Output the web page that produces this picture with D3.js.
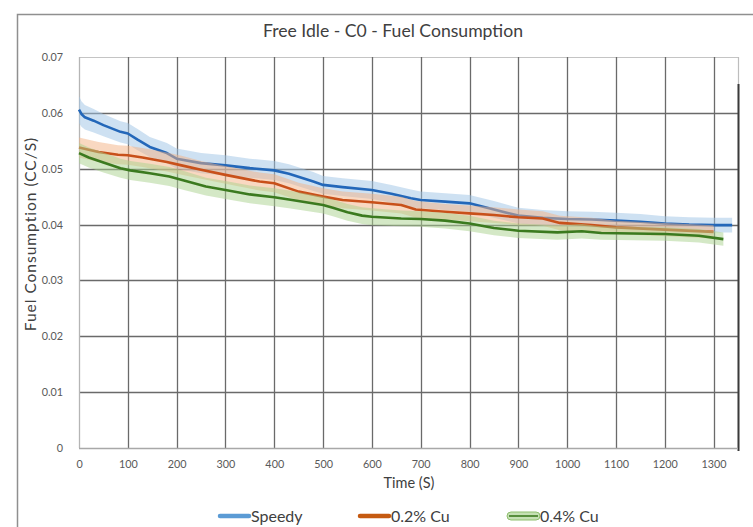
<!DOCTYPE html>
<html>
<head>
<meta charset="utf-8">
<script src="https://cdn.jsdelivr.net/npm/d3@7"></script>
<style>
  html, body { margin: 0; padding: 0; background: #fff; }
  svg { display: block; font-family: Lato, "Open Sans", sans-serif; }
</style>
</head>
<body>
<svg id="chart" width="753" height="527"></svg>
<script>
// Fuel consumption over time for three fuels (mean line with a shaded band)
const seriesNames = ["Speedy", "0.2% Cu", "0.4% Cu"];

const speedyTime  = [0, 5, 12, 30, 50, 85, 100, 120, 145, 180, 200, 250, 300, 350, 400, 430, 480, 500, 540, 600, 640, 680, 700, 750, 800, 850, 900, 950, 1000, 1050, 1100, 1150, 1200, 1250, 1300, 1338];
const speedyValue = [0.0606, 0.0598, 0.0592, 0.0586, 0.0578, 0.0566, 0.0563, 0.0552, 0.0539, 0.0528, 0.0518, 0.0510, 0.0506, 0.0501, 0.0497, 0.0491, 0.0477, 0.0471, 0.0467, 0.0462, 0.0455, 0.0447, 0.0444, 0.0441, 0.0438, 0.0427, 0.0416, 0.0412, 0.0410, 0.0409, 0.0407, 0.0405, 0.0402, 0.0400, 0.0399, 0.0399];
const speedyBand  = [0.0024, 0.0023, 0.0022, 0.0021, 0.0020, 0.0019, 0.0019, 0.0019, 0.0018, 0.0018, 0.0018, 0.0018, 0.0018, 0.0017, 0.0017, 0.0017, 0.0017, 0.0016, 0.0016, 0.0016, 0.0016, 0.0016, 0.0015, 0.0015, 0.0015, 0.0015, 0.0014, 0.0014, 0.0014, 0.0014, 0.0014, 0.0014, 0.0013, 0.0013, 0.0013, 0.0013];

const cu02Time  = [0, 40, 80, 100, 130, 180, 210, 250, 300, 370, 400, 450, 500, 540, 600, 660, 690, 750, 800, 850, 900, 950, 985, 1050, 1100, 1200, 1300];
const cu02Value = [0.0538, 0.0530, 0.0525, 0.0524, 0.0520, 0.0512, 0.0506, 0.0498, 0.0489, 0.0477, 0.0474, 0.0459, 0.0450, 0.0444, 0.0440, 0.0435, 0.0427, 0.0423, 0.0420, 0.0417, 0.0413, 0.0411, 0.0403, 0.0399, 0.0395, 0.0391, 0.0387];
const cu02Band  = [0.0018, 0.0018, 0.0017, 0.0017, 0.0017, 0.0017, 0.0017, 0.0016, 0.0016, 0.0016, 0.0016, 0.0016, 0.0015, 0.0015, 0.0015, 0.0015, 0.0015, 0.0014, 0.0014, 0.0014, 0.0014, 0.0013, 0.0013, 0.0013, 0.0012, 0.0012, 0.0012];

const cu04Time  = [0, 20, 50, 85, 105, 145, 185, 215, 260, 300, 350, 400, 430, 500, 520, 550, 580, 600, 660, 700, 750, 800, 850, 900, 980, 1030, 1070, 1200, 1270, 1320];
const cu04Value = [0.0528, 0.0520, 0.0511, 0.0501, 0.0497, 0.0492, 0.0486, 0.0479, 0.0468, 0.0462, 0.0454, 0.0449, 0.0445, 0.0435, 0.0430, 0.0422, 0.0416, 0.0414, 0.0411, 0.0410, 0.0407, 0.0402, 0.0394, 0.0389, 0.0386, 0.0388, 0.0385, 0.0383, 0.0380, 0.0374];
const cu04Band  = [0.0018, 0.0018, 0.0018, 0.0017, 0.0017, 0.0017, 0.0017, 0.0017, 0.0016, 0.0016, 0.0016, 0.0016, 0.0016, 0.0015, 0.0015, 0.0015, 0.0015, 0.0015, 0.0014, 0.0014, 0.0014, 0.0014, 0.0013, 0.0013, 0.0013, 0.0013, 0.0012, 0.0012, 0.0012, 0.0012];

const xTicks = [0, 100, 200, 300, 400, 500, 600, 700, 800, 900, 1000, 1100, 1200, 1300];
const yTicks = [0, 0.01, 0.02, 0.03, 0.04, 0.05, 0.06, 0.07];

const lineColors = ["#2367b9", "#c8501a", "#3b7a1f"];
const bandColors = ["#9dc3e6", "#f4b183", "#a9d18e"];
const legendColors = ["#5b9bd5", "#c55a11", "#3b7a1f"];

const series = [
  { name: seriesNames[0], t: speedyTime, v: speedyValue, e: speedyBand },
  { name: seriesNames[1], t: cu02Time,   v: cu02Value,   e: cu02Band },
  { name: seriesNames[2], t: cu04Time,   v: cu04Value,   e: cu04Band }
].map(s => ({ name: s.name, pts: s.t.map((t, i) => ({ t, v: s.v[i], e: s.e[i] })) }));

const svg = d3.select("#chart");
const plotLeft = 79, plotRight = 738, plotTop = 57, plotBottom = 448;

const x = d3.scaleLinear().domain([0, 1350]).range([plotLeft, plotRight]);
const y = d3.scaleLinear().domain([0, 0.07]).range([plotBottom, plotTop]);

// outer chart frame
svg.append("rect")
  .attr("x", 17.5).attr("y", 14.5).attr("width", 800).attr("height", 600)
  .attr("fill", "#fff").attr("stroke", "#8f8f8f").attr("stroke-width", 1.5);

// title
svg.append("text")
  .attr("x", 393).attr("y", 37)
  .attr("text-anchor", "middle")
  .attr("font-size", 17.6).attr("fill", "#404040")
  .text("Free Idle - C0 - Fuel Consumption");

// grid
const grid = svg.append("g");
grid.selectAll("line.h").data(yTicks.filter(d => d > 0 && d < 0.07)).join("line")
  .attr("x1", plotLeft).attr("x2", plotRight)
  .attr("y1", d => Math.round(y(d)) + 0.5).attr("y2", d => Math.round(y(d)) + 0.5)
  .attr("stroke", "#6a6a6a").attr("stroke-width", 1.3);
grid.append("line")
  .attr("x1", plotLeft).attr("x2", plotRight).attr("y1", y(0.07) + 0.5).attr("y2", y(0.07) + 0.5)
  .attr("stroke", "#c4c4c4").attr("stroke-width", 1.2);
grid.selectAll("line.v").data(xTicks.filter(d => d > 0)).join("line")
  .attr("x1", d => Math.round(x(d)) + 0.5).attr("x2", d => Math.round(x(d)) + 0.5)
  .attr("y1", plotTop).attr("y2", plotBottom)
  .attr("stroke", "#6a6a6a").attr("stroke-width", 1.3);
grid.append("line")
  .attr("x1", plotRight + 0.5).attr("x2", plotRight + 0.5).attr("y1", plotTop).attr("y2", plotBottom)
  .attr("stroke", "#bdbdbd").attr("stroke-width", 1.2);
grid.append("line")
  .attr("x1", plotRight + 0.5).attr("x2", plotRight + 0.5).attr("y1", 84).attr("y2", plotBottom + 3)
  .attr("stroke", "#3a3a3a").attr("stroke-width", 2);
grid.append("line")
  .attr("x1", plotLeft + 0.5).attr("x2", plotLeft + 0.5).attr("y1", plotTop).attr("y2", plotBottom)
  .attr("stroke", "#b5b5b5").attr("stroke-width", 1.3);
grid.append("line")
  .attr("x1", plotLeft).attr("x2", plotRight).attr("y1", plotBottom + 0.5).attr("y2", plotBottom + 0.5)
  .attr("stroke", "#a8a8a8").attr("stroke-width", 1.3);

// axes (labels only)
const xAxis = d3.axisBottom(x).tickValues(xTicks).tickFormat(d3.format("d")).tickSize(0).tickPadding(12);
const gx = svg.append("g").attr("transform", `translate(0,${plotBottom})`).call(xAxis);
const yAxis = d3.axisLeft(y).tickValues(yTicks).tickFormat(d => d === 0 ? "0" : d3.format(".2f")(d)).tickSize(0).tickPadding(16);
const gy = svg.append("g").attr("transform", `translate(${plotLeft},0)`).call(yAxis);
[gx, gy].forEach(g => {
  g.select(".domain").remove();
  g.selectAll("text").attr("font-size", 10.8).attr("fill", "#595959").attr("font-family", "Lato, sans-serif");
});

// axis titles
svg.append("text")
  .attr("x", 409).attr("y", 488).attr("text-anchor", "middle")
  .attr("font-size", 14.5).attr("fill", "#404040").text("Time (S)");
svg.append("text")
  .attr("transform", "translate(36,234) rotate(-90)").attr("text-anchor", "middle")
  .attr("font-size", 15.5).attr("letter-spacing", 1).attr("fill", "#404040").text("Fuel Consumption (CC/S)");

// bands and lines, drawn series by series
const area = d3.area().x(d => x(d.t)).y0(d => y(d.v - d.e)).y1(d => y(d.v + d.e));
const line = d3.line().x(d => x(d.t)).y(d => y(d.v));
const plot = svg.append("g");
series.forEach((s, i) => {
  plot.append("path").datum(s.pts).attr("d", area)
    .attr("fill", bandColors[i]).attr("fill-opacity", 0.5).attr("stroke", "none");
  plot.append("path").datum(s.pts).attr("d", line)
    .attr("fill", "none").attr("stroke", lineColors[i]).attr("stroke-width", 2.6)
    .attr("stroke-linejoin", "round");
});

// legend
const legendX = [218, 358, 507];
const lg = svg.append("g");
series.forEach((s, i) => {
  const g = lg.append("g").attr("transform", `translate(${legendX[i]},516)`);
  if (i === 2) {
    g.append("rect").attr("x", 0).attr("y", -4).attr("width", 33).attr("height", 8).attr("rx", 4)
      .attr("fill", "#c5e0b4").attr("stroke", "#8fbf6f").attr("stroke-width", 1);
    g.append("line").attr("x1", 2).attr("x2", 31).attr("y1", 0).attr("y2", 0)
      .attr("stroke", legendColors[i]).attr("stroke-width", 1.6);
  } else {
    g.append("line").attr("x1", 2).attr("x2", 31).attr("y1", 0).attr("y2", 0)
      .attr("stroke", legendColors[i]).attr("stroke-width", 4.5).attr("stroke-linecap", "round");
  }
  g.append("text").attr("x", 33).attr("y", 6).attr("font-size", 16).attr("fill", "#404040").text(s.name);
});
</script>
</body>
</html>
